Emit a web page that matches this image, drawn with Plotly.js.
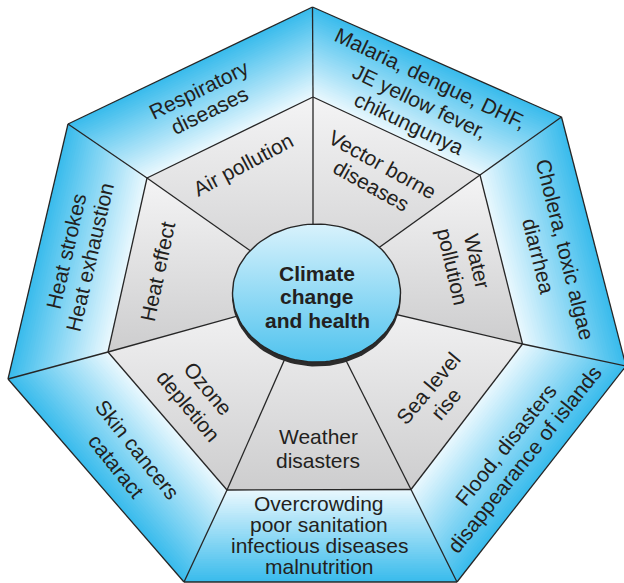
<!DOCTYPE html>
<html><head><meta charset="utf-8">
<script src="https://cdn.plot.ly/plotly-3.0.1.min.js"></script>
<style>html,body{margin:0;padding:0;background:#fff}#chart{width:624px;height:583px}</style>
</head><body><div id="chart"></div>
<script>
// ---------- data: labels ----------
const centerLabel = ['Climate', 'change', 'and health'];
const innerLabels = [
  ['Air pollution'],
  ['Vector borne', 'diseases'],
  ['Water', 'pollution'],
  ['Sea level', 'rise'],
  ['Weather', 'disasters'],
  ['Ozone', 'depletion'],
  ['Heat effect']
];
const outerLabels = [
  ['Respiratory', 'diseases'],
  ['Malaria, dengue, DHF,', 'JE yellow fever,', 'chikungunya'],
  ['Cholera, toxic algae', 'diarrhea'],
  ['Flood, disasters', 'disappearance of islands'],
  ['Overcrowding', 'poor sanitation', 'infectious diseases', 'malnutrition'],
  ['Skin cancers', 'cataract'],
  ['Heat strokes', 'Heat exhaustion']
];

// ---------- geometry (layout) ----------
const outerV = [[312.5,7],[561.5,117],[626,366],[457,582],[184,582],[8,379],[68,124]];
const innerV = [[313,97],[480,175],[522.5,344],[411,489.5],[227,490],[108,352],[147,178]];
const hub = [313,295];
const circ = {cx:316.5, cy:293, rx:84, ry:69};
// label placements: [cx, cy, angle, lineSpacing]; segment k lies between vertex k-1 and k
const innerPos = [[243,164,-28,24],[377,175,29,24],[465,264,77,26],[437,396,-50,24],[318,448,0,24],[198,397,50,26],[157,272,-78,24]];
const outerPos = [[204,100,-26,23],[420,101,25.5,25],[552,253,76,27],[515,452,-51.4,23],[319,535,0,21.3],[127,458,51.4,26],[78,254,-77,25]];
const centerPos = [317,296.7,0,23.3];

const FONT = 'Liberation Sans, Arial, sans-serif';
const TXT = '#231f20';
const LINE = '#262626';

function mix(a,b,t){return 'rgb('+a.map((v,i)=>Math.round(v+(b[i]-v)*t)).join(',')+')';}
const lightBlue=[234,248,254], deepBlue=[56,187,236];

// outer ring: nested heptagon bands (gradient inner->outer)
const shapes=[];
const N=40;
for(let k=0;k<N;k++){
  const t=1-k/N;
  const pts=outerV.map((v,i)=>[innerV[i][0]+(v[0]-innerV[i][0])*t, innerV[i][1]+(v[1]-innerV[i][1])*t]);
  const path='M '+pts.map(p=>p[0].toFixed(2)+' '+p[1].toFixed(2)).join(' L ')+' Z';
  const tc=1-(k+0.5)/N;
  shapes.push({type:'path',path:path,xref:'x',yref:'y',layer:'below',fillcolor:mix(lightBlue,deepBlue,tc),line:{width:0}});
}

const traces=[];
// inner gray wedges
for(let k=0;k<7;k++){
  const a=innerV[(k+6)%7], b=innerV[k];
  const xs=[a[0],b[0],hub[0],a[0]], ys=[a[1],b[1],hub[1],a[1]];
  traces.push({type:'scatter',mode:'lines',x:xs,y:ys,fill:'toself',fillcolor:'#e2e2e3',
    fillgradient:{type:'vertical',start:Math.min(...ys),stop:Math.max(...ys),colorscale:[[0,'#f4f4f5'],[1,'#cdcdce']]},
    line:{width:0},hoverinfo:'skip'});
}
// line work
const lx=[],ly=[];
function seg(p,q){lx.push(p[0],q[0],null);ly.push(p[1],q[1],null);}
for(let i=0;i<7;i++){
  seg(outerV[i],outerV[(i+1)%7]);
  seg(innerV[i],innerV[(i+1)%7]);
  seg(innerV[i],outerV[i]);
  seg(innerV[i],hub);
}
traces.push({type:'scatter',mode:'lines',x:lx,y:ly,line:{color:LINE,width:1.3},hoverinfo:'skip'});
// center button: shadow + gradient disc
function ellipse(cx,cy,rx,ry){const x=[],y=[];for(let i=0;i<=120;i++){const a=i/120*2*Math.PI;x.push(cx+rx*Math.cos(a));y.push(cy+ry*Math.sin(a));}return {x,y};}
const sh=ellipse(circ.cx,circ.cy+3.5,circ.rx+0.5,circ.ry+1);
traces.push({type:'scatter',mode:'lines',x:sh.x,y:sh.y,fill:'toself',fillcolor:'#2b2b2b',line:{width:0},hoverinfo:'skip'});
const el=ellipse(circ.cx,circ.cy,circ.rx,circ.ry);
traces.push({type:'scatter',mode:'lines',x:el.x,y:el.y,fill:'toself',fillcolor:'#8fd7f3',
  fillgradient:{type:'vertical',start:circ.cy-circ.ry,stop:circ.cy+circ.ry,colorscale:[[0,'#d8f2fc'],[1,'#50c3ee']]},
  line:{color:LINE,width:1.4},hoverinfo:'skip'});

// text
const annotations=[];
function block(lines,pos,bold){
  const [cx,cy,ang,sp]=pos;
  const r=ang*Math.PI/180, dx=-Math.sin(r), dy=Math.cos(r);
  lines.forEach((s,i)=>{
    const o=(i-(lines.length-1)/2)*sp;
    annotations.push({x:cx+dx*o,y:cy+dy*o,xref:'x',yref:'y',text:bold?'<b>'+s+'</b>':s,showarrow:false,
      textangle:ang,xanchor:'center',yanchor:'middle',font:{family:FONT,size:21,color:TXT}});
  });
}
innerLabels.forEach((l,i)=>block(l,innerPos[i],false));
outerLabels.forEach((l,i)=>block(l,outerPos[i],false));
block(centerLabel,centerPos,true);

const layout={width:624,height:583,margin:{l:0,r:0,t:0,b:0},paper_bgcolor:'#fff',plot_bgcolor:'#fff',showlegend:false,
  xaxis:{range:[0,624],visible:false,fixedrange:true},
  yaxis:{range:[583,0],visible:false,fixedrange:true},
  shapes:shapes,annotations:annotations};
Plotly.newPlot('chart',traces,layout,{staticPlot:true,displayModeBar:false});
</script></body></html>
